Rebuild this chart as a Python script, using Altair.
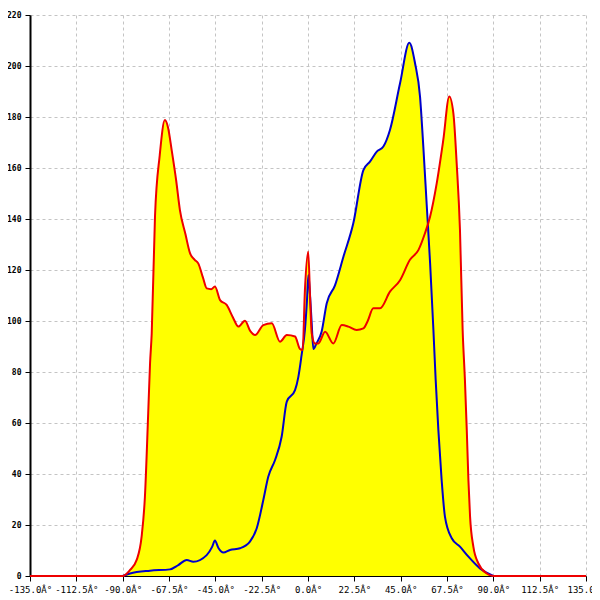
import altair as alt
import pandas as pd

red_x = [-135, -90, -86.4, -83.2, -80.8, -79.2, -77.6, -76.7, -75.9, -74.3, -72, -69.5, -68, -66.2, -64, -62.2,
         -59.5, -57.3, -55, -53.3, -51, -49.2, -47, -45.2, -42.7, -39.5, -36.5, -33.8, -30.6, -28, -25.7, -21.7,
         -17.6, -13.6, -10.3, -6.3, -3.9, -2.6, -1.5, 0.1, 1, 1.8, 3.4, 5, 8.3, 12.3, 16.4, 19.6, 23.6, 26.9, 29,
         31.7, 35, 39.8, 44.7, 49.5, 53.6, 56.8, 59.3, 62.5, 65.7, 68.6, 70.6, 72.2, 73.8, 75.1, 76.2, 77.1, 77.9,
         78.7, 80.3, 82.7, 86.8, 90, 135]
red_y = [0, 0, 2.4, 6.3, 15.4, 31, 63.8, 83.4, 95, 141, 165, 178.8, 176, 167, 155, 143.5,
         134, 126.6, 124, 122.6, 117, 112.8, 112.5, 113.5, 108.2, 106.3, 101.5, 97.8, 100.1, 96, 94.5, 98.4,
         99.1, 91.9, 94.5, 93.9, 89, 88.6, 112, 127.2, 109.5, 95.2, 91.2, 91.2, 95.8, 91.2, 98.4, 97.8, 96.5, 97.1, 100,
         105, 105, 111.5, 116, 124, 127.8, 134.4, 141, 154, 171, 188, 181.4, 161.8, 135.7, 96.5, 76.9, 57.3, 37.6,
         23.3, 11.5, 5, 1, 0, 0]

blue_x = [-90, -86.4, -76.7, -67, -63, -58.9, -55.7, -49.2, -46.5, -45.2, -43.5, -41.1, -37.9, -33, -28.2, -24.9,
          -21.7, -19.3, -16, -12.8, -10.3, -6.3, -4.7, -3.1, -1.5, -0.5, 0.2, 1, 1.8, 2.6, 4, 6.6, 9.1, 13.1, 17.2,
          22, 26.9, 30.1, 33.4, 36.6, 39.8, 44.7, 49.2, 52, 54.4, 56, 57.6, 59.3, 60.9, 62, 63.3, 64.9, 66.5, 69.8,
          73.8, 77.9, 83.5, 90]
blue_y = [0, 1, 2.1, 2.6, 4.3, 6.3, 5.6, 8.2, 11.5, 13.9, 11, 9.2, 10.2, 10.9, 13.5, 18.7,
          29.8, 38.9, 45.5, 54.6, 68.4, 72.9, 78, 86.7, 96.5, 108, 118, 110, 99, 89, 91, 95.8, 107, 114, 125.2,
          138.3, 159.2, 162.5, 166.4, 168.4, 174.9, 193.2, 209.1, 201, 188, 168.4, 146.2, 122.6, 96.5, 76.9, 57.3,
          37.6, 23.3, 14.8, 11.5, 7.6, 3, 0]

x_ticks = [-135, -112.5, -90, -67.5, -45, -22.5, 0, 22.5, 45, 67.5, 90, 112.5, 135]
y_ticks = [0, 20, 40, 60, 80, 100, 120, 140, 160, 180, 200, 220]

red = pd.DataFrame({"x": red_x, "y": red_y})
blue = pd.DataFrame({"x": blue_x, "y": blue_y})

xs = alt.Scale(domain=[-135, 135], nice=False, zero=False)
ys = alt.Scale(domain=[0, 220], nice=False)

xaxis = alt.Axis(values=x_ticks, title=None, grid=True, gridColor="#c4c4c4", gridDash=[3, 3],
                 domainColor="black", tickColor="black", tickSize=5, labelPadding=4,
                 labelFont="DejaVu Sans Mono", labelFontSize=9, labelColor="black",
                 labelExpr="(datum.value < 0 ? '-' : '') + format(abs(datum.value), '.1f') + 'Â°'",
                 labelOverlap=False, labelFlush=False)
yaxis = alt.Axis(values=y_ticks, title=None, grid=True, gridColor="#c4c4c4", gridDash=[3, 3],
                 domainColor="black", domainWidth=2, tickColor="black", tickSize=5, labelPadding=4,
                 labelFont="DejaVu Sans Mono", labelFontSize=8, labelColor="black", labelFontWeight="bold",
                 format="d", labelOverlap=False, labelFlush=False)

def enc(chart):
    return chart.encode(x=alt.X("x:Q", scale=xs, axis=xaxis), y=alt.Y("y:Q", scale=ys, axis=yaxis))

red_area = enc(alt.Chart(red).mark_area(color="#ffff00", opacity=1, interpolate="monotone"))
blue_area = enc(alt.Chart(blue).mark_area(color="#ffff00", opacity=1, interpolate="monotone"))
blue_line = enc(alt.Chart(blue).mark_line(color="#0000cc", strokeWidth=2, interpolate="monotone"))
red_line = enc(alt.Chart(red).mark_line(color="#ee0000", strokeWidth=2, interpolate="monotone"))

chart = alt.layer(red_area, blue_area, blue_line, red_line).properties(
    width=556, height=561,
    autosize=alt.AutoSizeParams(type="none"),
    padding={"left": 22, "top": 7, "right": 6, "bottom": 22},
    background="white",
).configure_view(stroke=None)

chart.save("out.html", embed_options={"renderer": "svg", "actions": False})
